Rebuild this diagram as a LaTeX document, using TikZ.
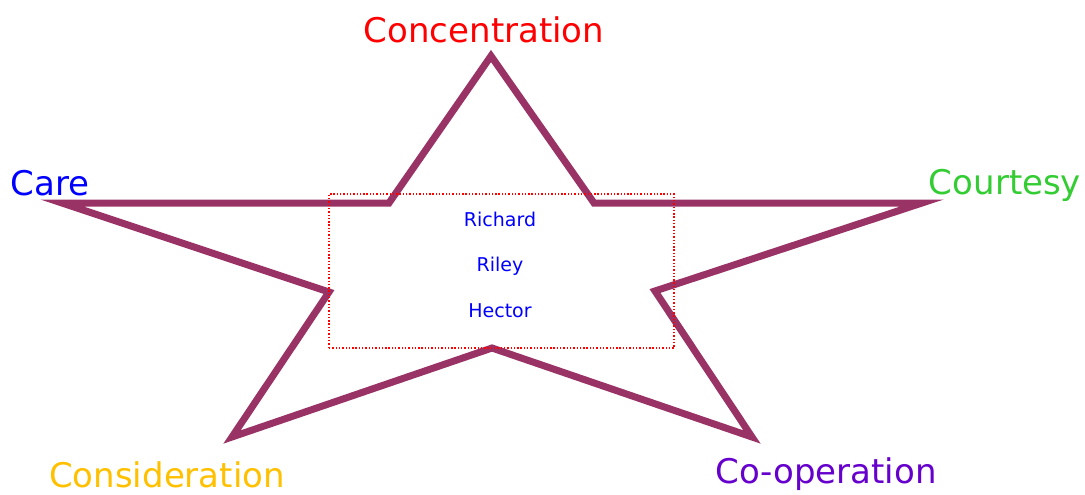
\documentclass[tikz,border=0pt]{standalone}
\usepackage{fontspec}
\setmainfont{DejaVu Sans}
\usepackage{tikz}
\usetikzlibrary{positioning}

\definecolor{starpurple}{HTML}{993366}
\definecolor{cgreen}{HTML}{33CC33}
\definecolor{corange}{HTML}{FFC000}
\definecolor{cpurple}{HTML}{6600CC}

\begin{document}
\begin{tikzpicture}[
  x=1pt, y=-1pt,
  valuelabel/.style={font=\fontsize{34}{37}\selectfont, inner sep=0pt},
  personname/.style={font=\fontsize{19}{22}\selectfont, text=blue, inner sep=0pt},
  staredge/.style={draw=starpurple, line width=7pt, miter limit=20},
  namebox/.style={draw=red, dash pattern=on 1.4pt off 1.9pt, line width=1.4pt},
]
  \useasboundingbox (0,0) rectangle (1085,495);

  % star corners
  \coordinate (top) at (491,56);
  \coordinate (ul) at (389,203);
  \coordinate (left) at (62,203);
  \coordinate (ll) at (329,292);
  \coordinate (bl) at (232,437);
  \coordinate (bot) at (492,348);
  \coordinate (br) at (752,437);
  \coordinate (rl) at (655,291);
  \coordinate (right) at (922,203);
  \coordinate (ur) at (594,203);
  \draw[staredge] (top) -- (ul) -- (left) -- (ll) -- (bl) -- (bot) -- (br)
    -- (rl) -- (right) -- (ur) -- cycle;

  \node[namebox, minimum width=345pt, minimum height=154pt] (box) at (501.5,271) {};
  \node[personname] (richard) at (500,219) {Richard};
  \node[personname] (riley) at (500,266) {Riley};
  \node[personname] (hector) at (500,311) {Hector};

  \node[valuelabel, text=red] (conc) at (484,30) {Concentration};
  \node[valuelabel, text=blue] (care) at (50,183) {Care};
  \node[valuelabel, text=cgreen] (court) at (1005,185) {Courtesy};
  \node[valuelabel, text=corange] (cons) at (167,475) {Consideration};
  \node[valuelabel, text=cpurple] (coop) at (826,474) {Co-operation};
\end{tikzpicture}
\end{document}
